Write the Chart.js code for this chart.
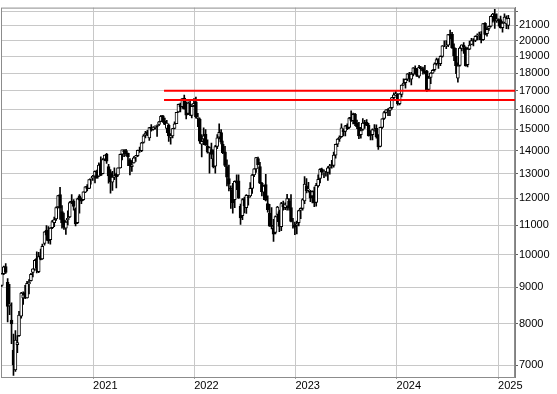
<!DOCTYPE html>
<html>
<head>
<meta charset="utf-8">
<script src="https://cdn.jsdelivr.net/npm/chart.js@4/dist/chart.umd.min.js"></script>
<style>
  html, body { margin: 0; padding: 0; background: #fff; }
  #wrap { width: 557px; height: 394px; }
</style>
</head>
<body>
<div id="wrap"><canvas id="chart"></canvas></div>
<script>
// weekly candles (week ending)
const weeks = [
  "2020-02-07","2020-02-14","2020-02-21","2020-02-28",
  "2020-03-06","2020-03-13","2020-03-20","2020-03-27",
  "2020-04-03","2020-04-09","2020-04-17","2020-04-24",
  "2020-05-01","2020-05-08","2020-05-15","2020-05-22","2020-05-29",
  "2020-06-05","2020-06-12","2020-06-19","2020-06-26",
  "2020-07-02","2020-07-10","2020-07-17","2020-07-24","2020-07-31",
  "2020-08-07","2020-08-14","2020-08-21","2020-08-28",
  "2020-09-04","2020-09-11","2020-09-18","2020-09-25",
  "2020-10-02","2020-10-09","2020-10-16","2020-10-23","2020-10-30",
  "2020-11-06","2020-11-13","2020-11-20","2020-11-27",
  "2020-12-04","2020-12-11","2020-12-18","2020-12-24","2020-12-31",
  "2021-01-08","2021-01-15","2021-01-22","2021-01-29",
  "2021-02-05","2021-02-12","2021-02-19","2021-02-26",
  "2021-03-05","2021-03-12","2021-03-19","2021-03-26",
  "2021-04-01","2021-04-09","2021-04-16","2021-04-23","2021-04-30",
  "2021-05-07","2021-05-14","2021-05-21","2021-05-28",
  "2021-06-04","2021-06-11","2021-06-18","2021-06-25",
  "2021-07-02","2021-07-09","2021-07-16","2021-07-23","2021-07-30",
  "2021-08-06","2021-08-13","2021-08-20","2021-08-27",
  "2021-09-03","2021-09-10","2021-09-17","2021-09-24",
  "2021-10-01","2021-10-08","2021-10-15","2021-10-22","2021-10-29",
  "2021-11-05","2021-11-12","2021-11-19","2021-11-26",
  "2021-12-03","2021-12-10","2021-12-17","2021-12-23","2021-12-31",
  "2022-01-07","2022-01-14","2022-01-21","2022-01-28",
  "2022-02-04","2022-02-11","2022-02-18","2022-02-25",
  "2022-03-04","2022-03-11","2022-03-18","2022-03-25",
  "2022-04-01","2022-04-08","2022-04-14","2022-04-22","2022-04-29",
  "2022-05-06","2022-05-13","2022-05-20","2022-05-27",
  "2022-06-03","2022-06-10","2022-06-17","2022-06-24",
  "2022-07-01","2022-07-08","2022-07-15","2022-07-22","2022-07-29",
  "2022-08-05","2022-08-12","2022-08-19","2022-08-26",
  "2022-09-02","2022-09-09","2022-09-16","2022-09-23","2022-09-30",
  "2022-10-07","2022-10-14","2022-10-21","2022-10-28",
  "2022-11-04","2022-11-11","2022-11-18","2022-11-25",
  "2022-12-02","2022-12-09","2022-12-16","2022-12-23","2022-12-30",
  "2023-01-06","2023-01-13","2023-01-20","2023-01-27",
  "2023-02-03","2023-02-10","2023-02-17","2023-02-24",
  "2023-03-03","2023-03-10","2023-03-17","2023-03-24","2023-03-31",
  "2023-04-06","2023-04-14","2023-04-21","2023-04-28",
  "2023-05-05","2023-05-12","2023-05-19","2023-05-26",
  "2023-06-02","2023-06-09","2023-06-16","2023-06-23","2023-06-30",
  "2023-07-07","2023-07-14","2023-07-21","2023-07-28",
  "2023-08-04","2023-08-11","2023-08-18","2023-08-25",
  "2023-09-01","2023-09-08","2023-09-15","2023-09-22","2023-09-29",
  "2023-10-06","2023-10-13","2023-10-20","2023-10-27",
  "2023-11-03","2023-11-10","2023-11-17","2023-11-24",
  "2023-12-01","2023-12-08","2023-12-15","2023-12-22","2023-12-29",
  "2024-01-05","2024-01-12","2024-01-19","2024-01-26",
  "2024-02-02","2024-02-09","2024-02-16","2024-02-23",
  "2024-03-01","2024-03-08","2024-03-15","2024-03-22","2024-03-28",
  "2024-04-05","2024-04-12","2024-04-19","2024-04-26",
  "2024-05-03","2024-05-10","2024-05-17","2024-05-24","2024-05-31",
  "2024-06-07","2024-06-14","2024-06-21","2024-06-28",
  "2024-07-05","2024-07-12","2024-07-19","2024-07-26",
  "2024-08-02","2024-08-09","2024-08-16","2024-08-23","2024-08-30",
  "2024-09-06","2024-09-13","2024-09-20","2024-09-27",
  "2024-10-04","2024-10-11","2024-10-18","2024-10-25",
  "2024-11-01","2024-11-08","2024-11-15","2024-11-22","2024-11-29",
  "2024-12-06","2024-12-13","2024-12-20","2024-12-27",
  "2025-01-03","2025-01-10","2025-01-17","2025-01-24","2025-01-31","2025-02-07"
];

const opens = [
  9060,9410,9630,9150, 8480,8100,7350,6890, 7480,7700,8200,8700,
  8850,8700,9100,9200,9450, 9550,9880,9470,9970,
  9870,10380,10830,10700,10500, 10920,11100,11230,11680,
  12150,11500,11200,10900, 11200,11300,11900,11900,11600,
  11100,12100,11940,11950, 12250,12480,12400,12800,12830,
  12900,13080,12900,13420, 13000,13630,13840,13300, 13050,12650,12860,13000,
  12950,13250,13850,14000,14010, 13880,13600,13300,13460, 13720,13780,14030,14000,
  14380,14720,14880,14600,15120, 15000,15100,15140,15250, 15400,15680,15400,15050,
  15200,14620,14690,15050,15280, 15880,16300,16150,16600, 16150,15800,16300,15700,16200,
  16400,15550,15500,14300, 14550,14760,14220,13900, 14050,13650,13320,14200,
  14630,14850,14300,13950,13300, 12800,12400,12350,11950, 12700,12700,11700,11350,
  12000,11650,12050,12100,12400, 12950,13200,13650,13300, 12600,12250,12550,11800,11450,
  11000,10900,10750,11400, 11500,10950,11750,11650, 11700,11900,11650,11100,11000,
  11000,11100,11550,11620, 11900,12500,12350,12280, 12100,12300,11850,12500,12800,
  13200,13050,13050,13050, 13250,13350,13350,13800, 14300,14550,14650,15000,14900,
  15200,15100,15600,15430, 15760,15300,15100,14750, 15000,15340,15350,15200,14720,
  14750,14950,15050,14700, 14200,15100,15550,15850, 16000,15950,16100,16630,16780,
  16800,16300,16800,17320, 17450,17650,17950,17650, 17950,18300,18000,17820,18330,
  18260,18110,18100,17080, 17750,18000,18200,18550,18800, 18550,19000,19700,19650,
  19700,20400,20400,19550, 19000,17700,18450,19500,19700, 19550,18500,19450,19750,
  20050,20000,20300,20350, 20400,20050,21150,20450,20800, 20950,21600,21800,21300,
  21400,21400,20850,21200,21100,21000
];

const highs = [
  9420,9640,9718,9260, 9090,8560,7740,7830, 7700,8330,8860,8870,
  9060,9180,9230,9420,9560, 9850,10100,10080,10190,
  10350,10780,10990,10960,10920, 11180,11300,11680,12120,
  12440,11730,11450,11160, 11530,11880,12150,11960,11640,
  12010,12150,12020,12260, 12470,12550,12760,12820,12930,
  13120,13150,13460,13730, 13650,13810,13880,13400, 13170,13100,13250,13030,
  13250,13850,14045,14060,14070, 13900,13650,13560,13740, 13800,14030,14170,14390,
  14750,14910,14960,15100,15240, 15130,15180,15230,15400, 15700,15700,15560,15450,
  15260,14800,15050,15370,15860, 16280,16330,16580,16764, 16400,16400,16460,16180,16570,
  16660,15800,15560,14750, 15080,14990,14500,14180, 14350,14040,14250,14750,
  15270,15000,14450,14200,13600, 13370,12500,12600,12700, 12950,12950,11780,12000,
  12050,12150,12120,12630,12970, 13220,13705,13720,13490, 12640,12520,12970,12100,11770,
  11650,11220,11340,11700, 11560,11850,11900,11830, 12160,12000,12150,11250,11120,
  11150,11560,11640,12000, 12880,12800,12640,12320, 12300,12450,12600,12950,13220,
  13240,13160,13100,13300, 13400,13570,13940,14310, 14560,14700,15280,15030,15200,
  15280,15600,15930,15820, 15800,15460,15350,15100, 15540,15450,15490,15300,14950,
  15030,15240,15230,14750, 15110,15540,15900,16000, 16050,16110,16640,16880,16970,
  16850,16850,17330,17670, 17670,17970,18040,18040, 18330,18420,18270,18460,18400,
  18350,18460,18160,17810, 18030,18210,18610,18890,18870, 19040,19670,19980,20000,
  20400,20690,20540,19780, 19500,18600,19600,19730,19860, 19600,19550,19960,20140,
  20130,20310,20430,20560, 20590,21130,21190,20840,20960, 21660,21830,22130,21800,
  21450,21650,21260,21800,21660,21700
];

const lows = [
  9030,9380,9420,8050, 8240,7500,6772,6860, 7290,7680,8150,8520,
  8680,8690,8810,9180,9310, 9510,9430,9440,9840,
  9850,10320,10480,10380,10350, 10880,10950,11180,11640,
  11210,10900,10860,10680, 11020,11280,11800,11550,10980,
  11060,11440,11800,11920, 12230,12300,12390,12570,12720,
  12620,12820,12880,12920, 12990,13560,13440,12610, 12210,12320,12750,12420,
  12900,13240,13590,13740,13770, 13340,12950,13100,13450, 13530,13740,13930,13960,
  14350,14600,14700,14480,14920, 14970,15010,14670,15180, 15380,15350,15240,14840,
  14430,14300,14600,15030,15280, 15850,15880,16060,16020, 15520,15730,15690,15570,16150,
  15560,15140,14340,13720, 14280,14240,13890,13020, 13650,13250,13020,14100,
  14550,14320,13870,13300,12500, 12300,11620,11440,11650, 12350,12000,11037,11200,
  11450,11430,11740,12050,12200, 12880,13050,13370,12590, 12100,11950,11900,11480,10960,
  10870,10440,10700,11130, 10780,10810,11550,11570, 11550,11550,11120,10900,10671,
  10700,10980,11240,11550, 11800,12220,12250,11880, 11830,11690,11700,12450,12620,
  12950,12830,12900,12720, 12980,13240,13280,13670, 14190,14430,14620,14690,14690,
  14990,15050,15400,15270, 15180,15040,14560,14580, 14950,15050,15190,14680,14500,
  14500,14920,14580,14060, 14180,15050,15500,15830, 15680,15690,16020,16560,16750,
  16220,16240,16660,17300, 17140,17560,17500,17330, 17840,17920,17800,17720,18170,
  17940,17950,16970,17060, 17400,17980,18110,18460,18280, 18440,18950,19600,19480,
  19600,20110,19500,18740, 17960,17480,18400,19340,19180, 18400,18360,19410,19730,
  19660,19920,20040,20050, 19850,20000,20370,20290,20670, 20900,21230,20800,21200,
  20950,20820,20540,21150,20780,20760
];

const closes = [
  9402,9623,9446,8462, 8530,7995,7006,7588, 7528,8231,8833,8784,
  8718,9122,9152,9385,9555, 9824,9588,9946,9849,
  10279,10768,10653,10461,10905, 11139,11207,11655,12110,
  11626,11088,10938,11117, 11256,11840,11852,11692,11052,
  11981,11937,11891,12258, 12458,12377,12756,12804,12888,
  13105,12803,13366,12925, 13612,13808,13535,12909, 12668,12860,12920,12880,
  13247,13845,14041,13950,13861, 13720,13340,13380,13687, 13773,14020,14025,14360,
  14700,14830,14730,15095,14960, 15116,15159,15129,15374, 15653,15365,15250,15311,
  14690,14717,15039,15270,15850, 16272,16130,16573,16025, 15712,16331,15742,16167,16320,
  15615,15611,14439,14430, 14700,14258,13940,14150, 13840,13300,14190,14600,
  14860,14400,13910,13357,12855, 12565,12387,11835,12682, 12620,12012,11265,11957,
  11715,12126,12042,12396,12947, 13207,13700,13380,12605, 12271,12485,11930,11569,10971,
  10960,10692,11316,11669, 10960,11805,11677,11785, 11996,11633,11138,11100,10940,
  11041,11541,11620,11960, 12573,12304,12359,12008, 12269,11830,12520,12767,13181,
  13063,13079,13050,13245, 13340,13340,13810,14298, 14546,14634,15083,14891,15179,
  15035,15566,15440,15750, 15274,15133,14694,14942, 15310,15291,15202,14701,14715,
  15000,14995,14640,14180, 15099,15529,15840,15983, 15997,16084,16623,16777,16826,
  16306,16832,17314,17421, 17642,17962,17686,17937, 18302,18019,17808,18339,18255,
  18108,18003,17037,17718, 18002,18161,18546,18808,18536, 19000,19659,19700,19683,
  20392,20332,19523,19023, 18440,18430,19509,19721,19575, 18421,19455,19701,19996,
  20035,20272,20354,20352, 20034,21117,20394,20743,20930, 21622,21780,21290,21450,
  21326,20847,21164,21570,21478,21491
];

// horizontal resistance levels
const levels = [16500, 17000];
const levelStart = "2021-09-14";

// axes
const yearTicks = ["2021-01-01", "2022-01-01", "2023-01-01", "2024-01-01", "2025-01-01"];
const yTicks = [7000, 8000, 9000, 10000, 11000, 12000, 13000, 14000, 15000, 16000, 17000, 18000, 19000, 20000, 21000];
const yGridOnly = [22000];

const xMin = Date.parse("2020-02-04");
const xMax = Date.parse("2025-03-03");

const wicks = weeks.map((d, i) => ({ x: Date.parse(d), y: [lows[i], highs[i]] }));
const bodies = weeks.map((d, i) => ({ x: Date.parse(d), y: [opens[i], closes[i]] }));
const bodyFill = weeks.map((d, i) => (closes[i] >= opens[i] ? "#ffffff" : "#000000"));

const levelSets = levels.map((v) => ({
  type: "line",
  data: [{ x: Date.parse(levelStart), y: v }, { x: xMax, y: v }],
  borderColor: "#ff0000",
  borderWidth: 2,
  pointRadius: 0,
  order: 1,
}));

// frame around the plot (top / left edges)
const frame = {
  id: "frame",
  beforeDatasetsDraw(chart) {
    const { ctx, chartArea: a } = chart;
    ctx.save();
    ctx.strokeStyle = "#8c8c8c";
    ctx.lineWidth = 1;
    ctx.strokeRect(a.left + 0.5, a.top + 0.5, a.right - a.left - 1, a.bottom - a.top);
    ctx.restore();
  },
};

const font = { family: "Arial, 'Liberation Sans', sans-serif", size: 11 };

new Chart(document.getElementById("chart"), {
  type: "bar",
  data: {
    datasets: [
      {
        data: wicks,
        backgroundColor: "#000",
        barThickness: 1,
        grouped: false,
        order: 3,
      },
      {
        data: bodies,
        backgroundColor: bodyFill,
        borderColor: "#000",
        borderWidth: 1,
        borderSkipped: false,
        barThickness: 3,
        grouped: false,
        order: 2,
      },
      ...levelSets,
    ],
  },
  options: {
    responsive: true,
    maintainAspectRatio: false,
    animation: false,
    layout: { padding: { left: 1, top: 4, right: 0, bottom: 0 } },
    plugins: { legend: { display: false }, tooltip: { enabled: false } },
    scales: {
      x: {
        type: "linear",
        min: xMin,
        max: xMax,
        offset: false,
        afterBuildTicks: (s) => { s.ticks = yearTicks.map((d) => ({ value: Date.parse(d) })); },
        afterFit: (s) => { s.height = 17; },
        grid: { color: "#c8c8c8", tickColor: "#a0a0a0", tickLength: 2, offset: false },
        border: { color: "#808080" },
        ticks: {
          autoSkip: false,
          maxRotation: 0,
          align: "start",
          padding: 0,
          color: "#000",
          font,
          callback: (v) => String(new Date(v).getUTCFullYear()),
        },
      },
      y: {
        type: "logarithmic",
        position: "right",
        min: 6736,
        max: 22246,
        beginAtZero: false,
        afterBuildTicks: (s) => { s.ticks = yTicks.concat(yGridOnly).map((v) => ({ value: v })); },
        afterFit: (s) => { s.width = 42; },
        grid: { color: "#c8c8c8", tickColor: "#606060", tickLength: 3 },
        border: { color: "#808080" },
        ticks: {
          autoSkip: false,
          padding: 1,
          color: "#000",
          font,
          callback: (v) => (yTicks.includes(v) ? String(v) : ""),
        },
      },
    },
  },
  plugins: [frame],
});
</script>
</body>
</html>
